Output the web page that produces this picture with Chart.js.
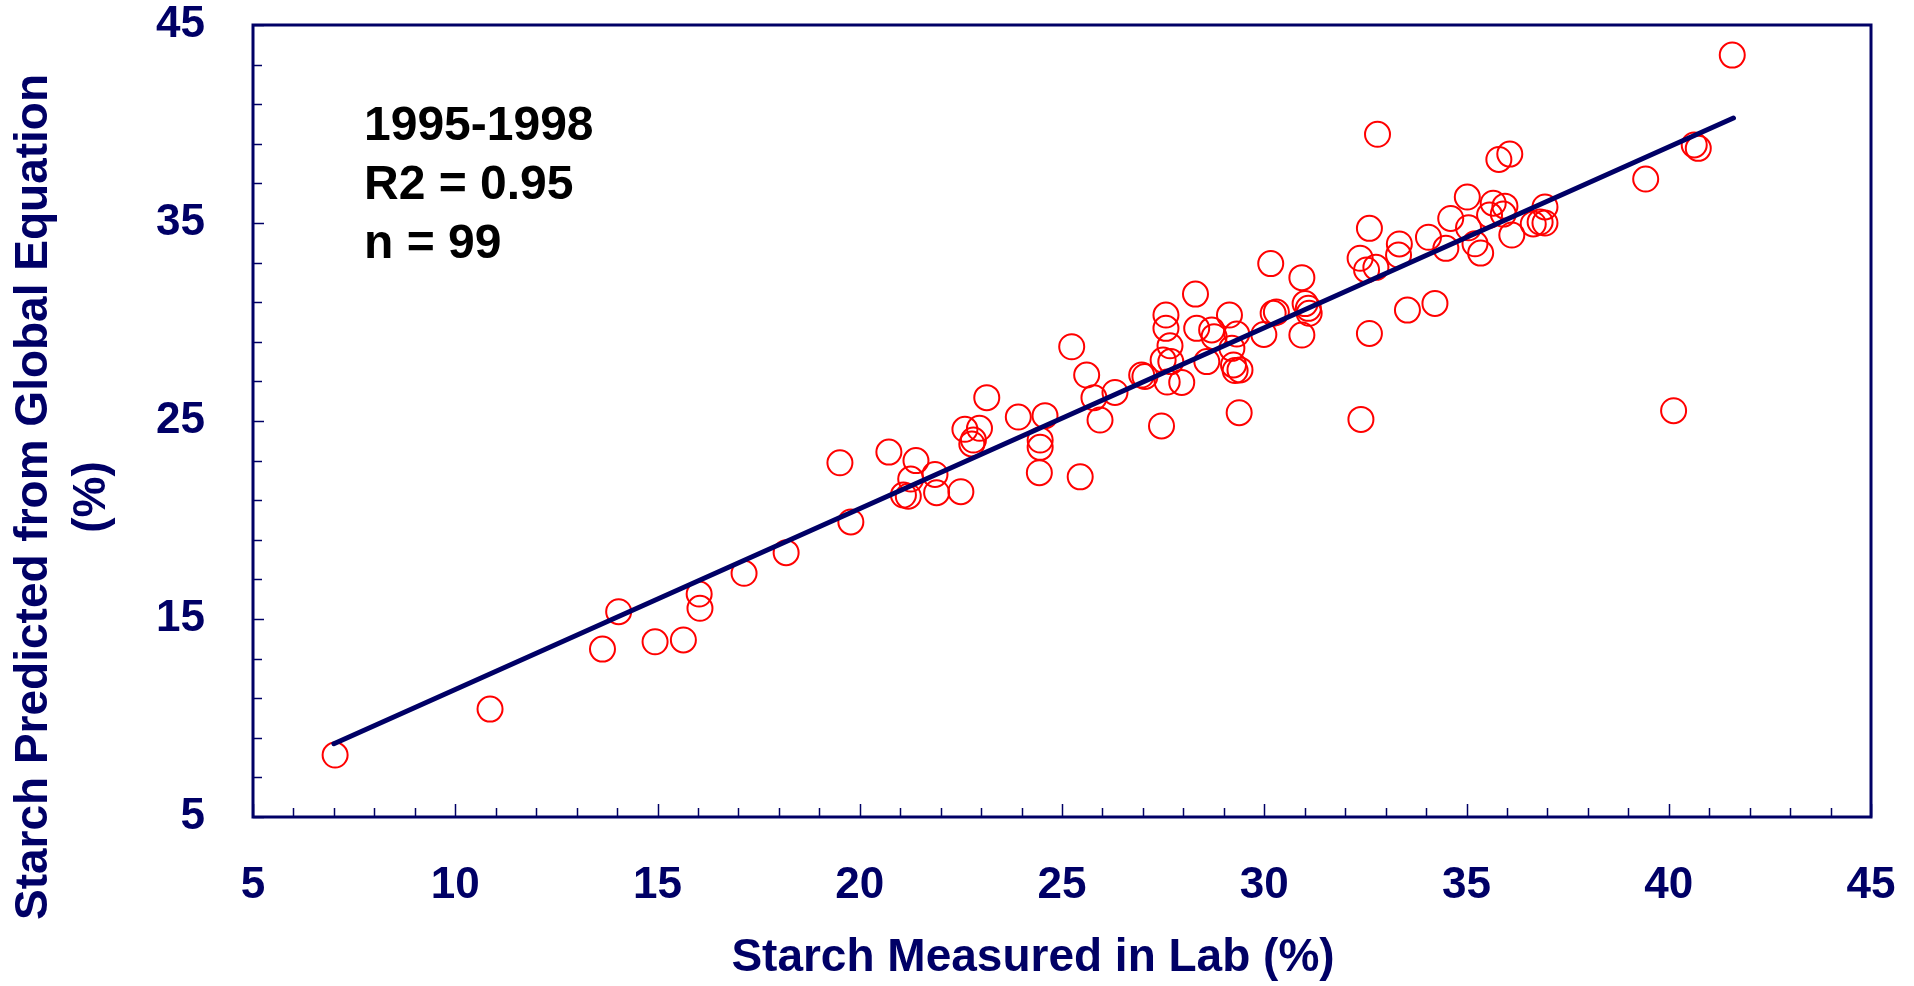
<!DOCTYPE html>
<html>
<head>
<meta charset="utf-8">
<title>Starch prediction</title>
<script src="https://cdn.jsdelivr.net/npm/chart.js@4.4.0/dist/chart.umd.min.js"></script>
<style>
  html, body { margin: 0; padding: 0; background: #fff; }
  #wrap { width: 1914px; height: 986px; }
</style>
</head>
<body>
<div id="wrap"><canvas id="starchChart"></canvas></div>
<script>
// starch measured in the lab (%)
const labStarch = [
  7.03, 10.86, 13.64, 14.04, 14.94, 15.64, 16.03, 16.05, 17.14, 18.18,
  19.78, 19.51, 20.72, 21.39, 21.26, 21.08, 21.2, 21.86, 21.9, 22.5,
  23.14, 22.6, 22.96, 22.81, 22.77, 23.92, 24.58, 24.46, 24.46, 24.44,
  25.45, 25.24, 25.61, 25.79, 25.94, 26.31, 26.97, 27.05, 27.46, 27.57,
  27.57, 27.67, 27.5, 27.69, 27.6, 27.96, 28.3, 28.33, 28.58, 28.7,
  28.76, 29.14, 29.32, 29.2, 29.24, 29.4, 29.28, 29.38, 29.99, 30.16,
  30.22, 30.3, 30.93, 31.01, 31.09, 31.11, 30.93, 32.6, 32.37, 32.53,
  32.76, 33.34, 33.32, 32.6, 32.39, 33.54, 34.22, 34.06, 34.61, 34.49,
  35.02, 35.05, 35.21, 35.35, 35.66, 35.95, 35.91, 36.12, 36.65, 36.82,
  36.94, 32.8, 35.8, 36.07, 40.63, 40.73, 39.43, 41.57, 40.12, 35.57,
  36.94
];
// starch predicted from the global equation (%)
const predictedStarch = [
  8.13, 10.45, 13.48, 15.37, 13.85, 13.94, 16.26, 15.54, 17.31, 18.35,
  19.9, 22.89, 23.43, 23.0, 22.07, 21.26, 21.2, 22.3, 21.38, 21.43,
  26.18, 24.58, 24.63, 24.04, 23.84, 25.2, 25.27, 24.04, 23.67, 22.39,
  22.18, 28.75, 27.32, 26.18, 25.05, 26.44, 27.32, 27.25, 24.75, 30.35,
  29.68, 28.8, 28.08, 28.0, 26.97, 26.95, 31.41, 29.68, 28.0, 29.6,
  29.26, 30.35, 29.39, 28.67, 27.83, 27.58, 27.55, 25.42, 29.37, 32.95,
  30.44, 30.5, 32.24, 30.93, 30.69, 30.44, 29.34, 34.73, 33.22, 32.63,
  32.76, 33.94, 33.38, 29.42, 25.08, 30.6, 30.94, 34.28, 35.23, 33.72,
  36.31, 34.76, 33.95, 33.48, 36.0, 35.85, 35.45, 34.39, 34.95, 35.05,
  35.81, 39.48, 38.21, 38.48, 38.94, 38.77, 37.22, 43.48, 25.52, 35.4,
  35.0
];

// regression line end points
const fitX = [7.0, 41.6];
const fitY = [8.7, 40.3];

// axis tick labels
const xTickValues = [5, 10, 15, 20, 25, 30, 35, 40, 45];
const yTickValues = [5, 15, 25, 35, 45];

const statsLines = ['1995-1998', 'R2 = 0.95', 'n = 99'];
const xTitle = 'Starch Measured in Lab (%)';
const yTitle = ['Starch Predicted from Global Equation', '(%)'];

const NAVY = '#000066';
const FONT = "'Liberation Sans', Arial, Helvetica, sans-serif";

const points = labStarch.map((v, i) => ({ x: v, y: predictedStarch[i] }));
const fitLine = fitX.map((v, i) => ({ x: v, y: fitY[i] }));

// frame, inward tick marks, axis titles and the stats text
const chartDecor = {
  id: 'chartDecor',
  afterDraw(chart) {
    const { ctx, chartArea: a } = chart;
    const x = chart.scales.x;
    const y = chart.scales.y;
    ctx.save();

    ctx.strokeStyle = NAVY;
    ctx.lineWidth = 1.5;
    for (let v = x.min; v <= x.max; v += 1) {
      const px = Math.round(x.getPixelForValue(v)) + 0.5;
      const len = v % 5 === 0 ? 13 : 9;
      ctx.beginPath();
      ctx.moveTo(px, a.bottom);
      ctx.lineTo(px, a.bottom - len);
      ctx.stroke();
    }
    for (let v = y.min; v <= y.max; v += 2) {
      const py = Math.round(y.getPixelForValue(v)) + 0.5;
      const len = (v - 5) % 10 === 0 ? 11 : 9;
      ctx.beginPath();
      ctx.moveTo(a.left, py);
      ctx.lineTo(a.left + len, py);
      ctx.stroke();
    }

    ctx.lineWidth = 3;
    ctx.strokeRect(a.left, a.top, a.right - a.left, a.bottom - a.top);

    // axis titles
    ctx.fillStyle = NAVY;
    ctx.font = 'bold 46px ' + FONT;
    ctx.textAlign = 'center';
    ctx.textBaseline = 'middle';
    ctx.fillText(xTitle, 1033, 958);

    ctx.save();
    ctx.translate(34, 497);
    ctx.rotate(-Math.PI / 2);
    ctx.fillText(yTitle[0], 0, 0);
    ctx.restore();
    ctx.save();
    ctx.translate(92, 497);
    ctx.rotate(-Math.PI / 2);
    ctx.fillText(yTitle[1], 0, 0);
    ctx.restore();

    // stats block
    ctx.fillStyle = '#000';
    ctx.font = 'bold 48px ' + FONT;
    ctx.textAlign = 'left';
    ctx.textBaseline = 'alphabetic';
    statsLines.forEach((t, i) => ctx.fillText(t, 364, 140 + i * 59));

    ctx.restore();
  }
};

new Chart(document.getElementById('starchChart'), {
  type: 'scatter',
  data: {
    datasets: [
      {
        type: 'line',
        label: 'Fit',
        data: fitLine,
        borderColor: NAVY,
        borderWidth: 5,
        borderCapStyle: 'round',
        pointRadius: 0,
        fill: false,
        order: 0
      },
      {
        label: 'Samples',
        data: points,
        pointStyle: 'circle',
        pointRadius: 12.5,
        pointBorderWidth: 2,
        pointBorderColor: '#ff0000',
        pointBackgroundColor: 'rgba(0,0,0,0)',
        order: 1
      }
    ]
  },
  options: {
    responsive: true,
    maintainAspectRatio: false,
    animation: false,
    layout: { padding: { left: 0, top: 25, right: 43, bottom: 0 } },
    plugins: {
      legend: { display: false },
      tooltip: { enabled: false }
    },
    scales: {
      x: {
        type: 'linear',
        min: 5,
        max: 45,
        grid: { display: false },
        border: { display: false },
        afterBuildTicks: s => { s.ticks = xTickValues.map(v => ({ value: v })); },
        afterFit: s => { s.height = 169; s.paddingLeft = 0; s.paddingRight = 0; },
        ticks: {
          color: NAVY,
          padding: 34,
          maxRotation: 0,
          font: { family: FONT, size: 44, weight: 'bold' }
        }
      },
      y: {
        type: 'linear',
        min: 5,
        max: 45,
        grid: { display: false },
        border: { display: false },
        afterBuildTicks: s => { s.ticks = yTickValues.map(v => ({ value: v })); },
        afterFit: s => { s.width = 253; s.paddingTop = 0; s.paddingBottom = 0; },
        ticks: {
          color: NAVY,
          padding: 40,
          font: { family: FONT, size: 44, weight: 'bold' }
        }
      }
    }
  },
  plugins: [chartDecor]
});
</script>
</body>
</html>
